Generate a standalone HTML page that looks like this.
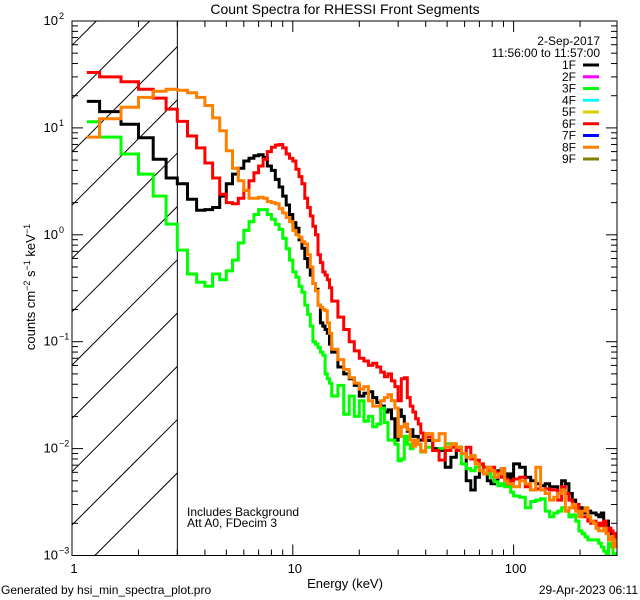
<!DOCTYPE html>
<html><head><meta charset="utf-8"><style>
html,body{margin:0;padding:0;background:#fff;width:640px;height:600px;overflow:hidden;}
svg{display:block;font-family:"Liberation Sans",sans-serif;}
</style></head><body>
<svg id="chart" xmlns="http://www.w3.org/2000/svg" width="640" height="600" viewBox="0 0 640 600">
<rect x="0" y="0" width="640" height="600" fill="#fff"/>
<text x="345" y="14" text-anchor="middle" font-size="14">Count Spectra for RHESSI Front Segments</text>
<g id="plot"></g>
<text transform="translate(35,287) rotate(-90)" text-anchor="middle" font-size="13">counts cm<tspan dy="-5" font-size="9">−2</tspan><tspan dy="5"> s</tspan><tspan dy="-5" font-size="9">−1</tspan><tspan dy="5"> keV</tspan><tspan dy="-5" font-size="9">−1</tspan></text>
<text x="345" y="588" text-anchor="middle" font-size="13">Energy (keV)</text>
<text x="1" y="594" font-size="12">Generated by hsi_min_spectra_plot.pro</text>
<text x="638" y="594" text-anchor="end" font-size="12">29-Apr-2023 06:11</text>
<text x="187" y="516" font-size="12">Includes Background</text>
<text x="187" y="527" font-size="12">Att A0, FDecim 3</text>
<g id="legend"></g>
</svg>
<script>
const segLabels=["1F","2F","3F","4F","5F","6F","7F","8F","9F"];
const segColors=["#000000","#ff00ff","#00ff00","#00ffff","#d8d000","#ff0000","#0000ff","#ff8000","#808000"];
const xTickLabels=["1","10","100"];
const xTickValues=[1,10,100];
const yTickExps=[2,1,0,-1,-2,-3];
const black=[17.7,14.2,10.8,8.1,5.1,3.4,3.0,2.15,1.7,1.72,1.8,2.3,3.0,3.7,4.2,4.9,5.2,5.5,5.6,5.3,4.4,4.0,3.3,2.8,2.3,1.9,1.55,1.3,1.15,0.9,0.75,0.6,0.5,0.42,0.35,0.31,0.22,0.15,0.14,0.13,0.12,0.095,
0.08,0.058,0.05,0.045,0.039,0.031,0.033,0.034,0.03,0.027,0.025,0.022,0.023,0.019,0.012,0.023,0.02,0.017,0.0145,0.015,0.013,0.013,0.012,0.012,0.0125,
0.0119,0.0100,0.0096,0.0067,0.0083,0.0103,0.0090,0.0050,0.0041,0.0054,0.0062,0.0058,0.0050,0.0047,0.0052,0.0062,0.0065,0.0054,0.0058,0.0052,
0.0072,0.0067,0.0054,0.0050,0.0047,0.0045,0.0047,0.0044,0.0044,0.0038,0.0050,0.0047,0.0038,0.0033,0.0030,0.0028,0.0025,0.0026,0.0026,0.0025,0.0025,0.0024,0.0023,0.0025,0.0020,0.0021,0.0018,0.0016,0.0016,0.0015];
const green=[11.4,8.2,5.7,3.7,2.3,1.26,0.72,0.43,0.36,0.33,0.43,0.38,0.46,0.58,0.84,1.1,1.33,1.55,1.72,1.72,1.55,1.4,1.25,1.12,0.93,0.74,0.58,0.45,0.4,0.33,0.29,0.22,0.18,0.14,0.1,0.095,0.088,0.08,0.075,0.05,0.045,0.041,
0.031,0.039,0.021,0.031,0.02,0.028,0.018,0.02,0.016,0.017,0.024,0.0175,0.012,0.012,0.011,0.0077,0.008,0.013,0.011,0.01,0.012,0.012,0.011,0.0093,0.0095,
0.0103,0.0096,0.0100,0.0111,0.0111,0.0103,0.0072,0.0065,0.0062,0.0067,0.0070,0.0058,0.0058,0.0054,0.0049,0.0045,0.0047,0.0044,0.0045,0.0039,
0.0036,0.0035,0.0028,0.0032,0.0033,0.0034,0.0026,0.0023,0.0025,0.0026,0.0028,0.0026,0.0023,0.0024,0.0021,0.0017,0.0016,0.0015,0.0014,0.0014,0.0014,0.0014,0.0013,0.0012,0.0011,0.00104,0.0013,0.0012,0.00097,0.00104];
const red=[33,30,27,23,19,15,11.5,8.4,6.5,4.7,3.4,2.4,2.0,1.95,2.2,2.6,3.2,3.8,4.4,5.1,6.0,6.6,6.9,7.0,6.5,5.7,5.2,4.9,4.1,3.5,3.0,2.2,1.8,1.5,1.2,1.0,0.65,0.55,0.45,0.42,0.38,0.32,
0.24,0.17,0.13,0.1,0.082,0.07,0.066,0.06,0.063,0.058,0.052,0.047,0.05,0.043,0.038,0.028,0.045,0.046,0.03,0.025,0.022,0.019,0.017,0.014,0.012,
0.0128,0.0096,0.0078,0.0096,0.0103,0.0096,0.0090,0.0103,0.0080,0.0078,0.0072,0.0067,0.0062,0.0067,0.0060,0.0058,0.0054,0.0052,0.0047,0.0050,
0.0052,0.0054,0.0044,0.0041,0.0042,0.0041,0.0042,0.0041,0.0041,0.0033,0.0044,0.0038,0.0033,0.0028,0.0030,0.0025,0.0023,0.0023,0.0021,0.0020,0.0021,0.0018,0.0020,0.0019,0.0021,0.0017,0.0018,0.0017,0.0016,0.0014];
const orange=[8.2,12.2,15.6,19.3,22,23,22.5,21.3,19.3,16.2,12.4,9.4,6.1,4.2,3.2,2.6,2.2,2.2,2.25,2.2,2.05,2.0,1.95,1.76,1.6,1.45,1.33,1.1,1.0,0.95,0.86,0.82,0.65,0.5,0.35,0.3,0.22,0.21,0.2,0.195,0.15,0.12,
0.085,0.068,0.055,0.046,0.041,0.036,0.038,0.028,0.025,0.025,0.028,0.03,0.032,0.028,0.024,0.013,0.016,0.017,0.015,0.012,0.0105,0.012,0.011,0.0095,0.0093,
0.0138,0.0119,0.0138,0.0103,0.0111,0.0103,0.0090,0.0083,0.0086,0.0072,0.0062,0.0058,0.0067,0.0062,0.0054,0.0058,0.0065,0.0050,0.0047,0.0047,
0.0044,0.0050,0.0047,0.0041,0.0067,0.0041,0.0038,0.0033,0.0035,0.0038,0.0041,0.0026,0.0028,0.0030,0.0026,0.0023,0.0026,0.0028,0.0023,0.0021,0.0020,0.0018,0.0017,0.0017,0.0018,0.0016,0.0014,0.0015,0.0012,0.0014];

const edges=[1.1667];
for(let k=0;k<=41;k++) edges.push(4/3+k/3);
for(let e=16;e<=40;e++) edges.push(e);
for(let e=43;e<=100;e+=3) edges.push(e);
for(let e=106.5;e<=295.01;e+=6.5) edges.push(e);

const L=72,R=617,T=21,B=555.5;
const xs=e=>L+220.8*Math.log10(e);
const ys=v=>T+106.9*(2-Math.log10(v));
const NS="http://www.w3.org/2000/svg";
const plot=document.getElementById('plot');
function mk(tag,attrs,parent){const el=document.createElementNS(NS,tag);for(const k in attrs)el.setAttribute(k,attrs[k]);(parent||plot).appendChild(el);return el;}

const defs=mk('defs',{});
const cp=mk('clipPath',{id:'pc'},defs);
mk('rect',{x:L,y:T,width:R-L,height:B-T},cp);

const xv=xs(3);
const hg=mk('g',{});


for(let k=-2;k<14;k++){
  const y0=471.7-53.3*k; // y at x=L; line y = y0-(x-L)
  let xa=L, ya=y0;
  if(ya>B){xa=L+(ya-B);ya=B;}
  let xb=xv, yb=y0-(xv-L);
  if(yb<T){xb=L+(y0-T);yb=T;}
  if(xa>=xb) continue;
  mk('line',{x1:xa.toFixed(1),y1:ya.toFixed(1),x2:xb.toFixed(1),y2:yb.toFixed(1),stroke:'#000','stroke-width':1},hg);
}
const vl=mk('line',{x1:xv,y1:T,x2:xv,y2:B,stroke:'#000','stroke-width':1});



const series=[[black,"#000000","series-1F"],[green,"#00ff00","series-3F"],[red,"#ff0000","series-6F"],[orange,"#ff8000","series-8F"]];
const sg=mk('g',{'clip-path':'url(#pc)'});
series.forEach(([vals,col,name])=>{
  let d='';
  for(let i=0;i<vals.length&&i<edges.length-1;i++){
    const x0=xs(edges[i]),x1=Math.min(xs(edges[i+1]),R),y=ys(vals[i]);
    d+=(i===0?'M':'L')+x0.toFixed(1)+','+y.toFixed(1)+'L'+x1.toFixed(1)+','+y.toFixed(1);
  }
  const p=mk('path',{d:d,fill:'none',stroke:col,'stroke-width':3,'stroke-linejoin':'miter'},sg);
  
  
});

const fr=mk('rect',{x:L,y:T,width:R-L,height:B-T,fill:'none',stroke:'#000','stroke-width':1});



const xt=mk('g',{stroke:'#000','stroke-width':1});


for(let dec=1;dec<=100;dec*=10){for(let m=1;m<=9;m++){const e=dec*m;const x=xs(e);if(x<L-0.5||x>R+0.5)continue;const len=m===1?11:6;
mk('line',{x1:x,y1:B,x2:x,y2:B-len},xt);mk('line',{x1:x,y1:T,x2:x,y2:T+len},xt);}}
xTickValues.forEach((v,i)=>{const t=mk('text',{x:xs(v)+2,y:573,'text-anchor':'middle','font-size':13});t.textContent=xTickLabels[i];

});

const yt=mk('g',{stroke:'#000','stroke-width':1});


for(let p=-3;p<=1;p++){for(let m=1;m<=9;m++){const v=Math.pow(10,p)*m;const y=ys(v);const len=m===1?11:6;
mk('line',{x1:L,y1:y,x2:L+len,y2:y},yt);mk('line',{x1:R,y1:y,x2:R-len,y2:y},yt);}}
mk('line',{x1:L,y1:ys(100),x2:L+11,y2:ys(100)},yt);mk('line',{x1:R,y1:ys(100),x2:R-11,y2:ys(100)},yt);
yTickExps.forEach(p=>{const y=ys(Math.pow(10,p));const t=mk('text',{x:58,y:y+4,'text-anchor':'end','font-size':13});


t.textContent='10';const s=mk('tspan',{x:59,dy:-6,'font-size':9},t);s.setAttribute('text-anchor','start');s.textContent=(p<0?'−':'')+Math.abs(p);

});

const lg=document.getElementById('legend');
const d1=mk('text',{x:600,y:45,'text-anchor':'end','font-size':12},lg);d1.textContent='2-Sep-2017';


const d2=mk('text',{x:600,y:57,'text-anchor':'end','font-size':12},lg);d2.textContent='11:56:00 to 11:57:00';


segLabels.forEach((lab,i)=>{const y=65+11.75*i;
const g=mk('g',{},lg);


const t=mk('text',{x:576,y:y+4,'text-anchor':'end','font-size':12},g);t.textContent=lab;
mk('line',{x1:583,y1:y,x2:599,y2:y,stroke:segColors[i],'stroke-width':3},g);});
</script>
</body></html>
